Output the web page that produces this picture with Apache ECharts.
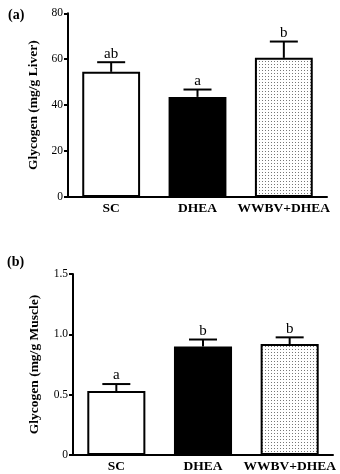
<!DOCTYPE html>
<html><head><meta charset="utf-8">
<script src="https://cdn.jsdelivr.net/npm/echarts@6/dist/echarts.min.js"></script>
<style>html,body{margin:0;padding:0;background:#fff}#c{width:340px;height:474px}</style>
</head><body><div id="c"></div>
<script>
const categories = ['SC', 'DHEA', 'WWBV+DHEA'];
const liverMean = [54.5, 43.6, 60.6];
const liverSEM = [4.2, 3.2, 7.1];
const liverLetters = ['ab', 'a', 'b'];
const muscleMean = [0.53, 0.90, 0.92];
const muscleSEM = [0.058, 0.057, 0.055];
const muscleLetters = ['a', 'b', 'b'];
const liverTicks = [0, 20, 40, 60, 80];
const muscleTicks = ['0', '0.5', '1.0', '1.5'];

const FONT = '"Liberation Serif","Times New Roman",serif';

const pc = document.createElement('canvas');
pc.width = 3; pc.height = 3;
const g = pc.getContext('2d');
g.fillStyle = '#fff'; g.fillRect(0, 0, 3, 3);
g.fillStyle = '#777'; g.fillRect(1, 1, 1, 1);
const dotted = { image: pc, repeat: 'repeat' };

const fills = ['#fff', '#000', dotted];

function barData(vals) {
  return vals.map((v, i) => ({ value: v, itemStyle: { color: fills[i] } }));
}
function errRender(letters) {
  return function (params, api) {
    const i = api.value(0);
    const p = api.coord([i, api.value(1)]);
    const t = api.coord([i, api.value(1) + api.value(2)]);
    const st = { stroke: '#000', lineWidth: 2 };
    return { type: 'group', children: [
      { type: 'line', shape: { x1: p[0], y1: p[1], x2: t[0], y2: t[1] }, style: st },
      { type: 'line', shape: { x1: t[0] - 14, y1: t[1], x2: t[0] + 14, y2: t[1] }, style: st },
      { type: 'text', x: t[0], y: t[1] - 1, style: { text: letters[params.dataIndex], fontFamily: FONT, fontSize: 15, fill: '#000', align: 'center', verticalAlign: 'bottom' } }
    ]};
  };
}

function xAxis(gi) {
  return { type: 'category', gridIndex: gi, data: categories,
    axisLine: { lineStyle: { color: '#000', width: 2 } }, axisTick: { show: false },
    axisLabel: { interval: 0, hideOverlap: false, color: '#000', fontFamily: FONT, fontWeight: 'bold', fontSize: 13.5, margin: 5 } };
}
function yAxis(gi, max, interval, name, fmt, gap) {
  return { type: 'value', gridIndex: gi, min: 0, max: max, interval: interval,
    name: name, nameLocation: 'middle', nameGap: gap, nameRotate: 90,
    nameTextStyle: { color: '#000', fontFamily: FONT, fontWeight: 'bold', fontSize: 13.5 },
    axisLine: { show: true, lineStyle: { color: '#000', width: 2 } },
    axisTick: { show: true, length: 4, lineStyle: { color: '#000', width: 2 } },
    splitLine: { show: false },
    axisLabel: { color: '#000', fontFamily: FONT, fontSize: 11.5, margin: 5, formatter: fmt } };
}

const chart = echarts.init(document.getElementById('c'), null, { renderer: 'canvas' });
chart.setOption({
  animation: false,
  title: [
    { text: '(a)', left: 3, top: 3, textStyle: { fontFamily: FONT, fontWeight: 'bold', fontSize: 14, color: '#000' } },
    { text: '(b)', left: 2, top: 250, textStyle: { fontFamily: FONT, fontWeight: 'bold', fontSize: 14, color: '#000' } }
  ],
  grid: [
    { left: 68, right: 13, top: 13.3, bottom: 277 },
    { left: 73, right: 7, top: 274, bottom: 15.7 }
  ],
  xAxis: [xAxis(0), xAxis(1)],
  yAxis: [
    yAxis(0, 80, 20, 'Glycogen (mg/g Liver)', v => String(liverTicks[liverTicks.indexOf(v)] ?? v), 25),
    yAxis(1, 1.5, 0.5, 'Glycogen (mg/g Muscle)', v => muscleTicks[Math.round(v / 0.5)], 31)
  ],
  series: [
    { type: 'bar', xAxisIndex: 0, yAxisIndex: 0, barWidth: '67%', data: barData(liverMean),
      itemStyle: { borderColor: '#000', borderWidth: 2 } },
    { type: 'custom', xAxisIndex: 0, yAxisIndex: 0, renderItem: errRender(liverLetters),
      encode: { x: 0, y: 1 }, data: liverMean.map((v, i) => [i, v, liverSEM[i]]), z: 3 },
    { type: 'bar', xAxisIndex: 1, yAxisIndex: 1, barWidth: '67%', data: barData(muscleMean),
      itemStyle: { borderColor: '#000', borderWidth: 2 } },
    { type: 'custom', xAxisIndex: 1, yAxisIndex: 1, renderItem: errRender(muscleLetters),
      encode: { x: 0, y: 1 }, data: muscleMean.map((v, i) => [i, v, muscleSEM[i]]), z: 3 }
  ]
});
</script></body></html>
